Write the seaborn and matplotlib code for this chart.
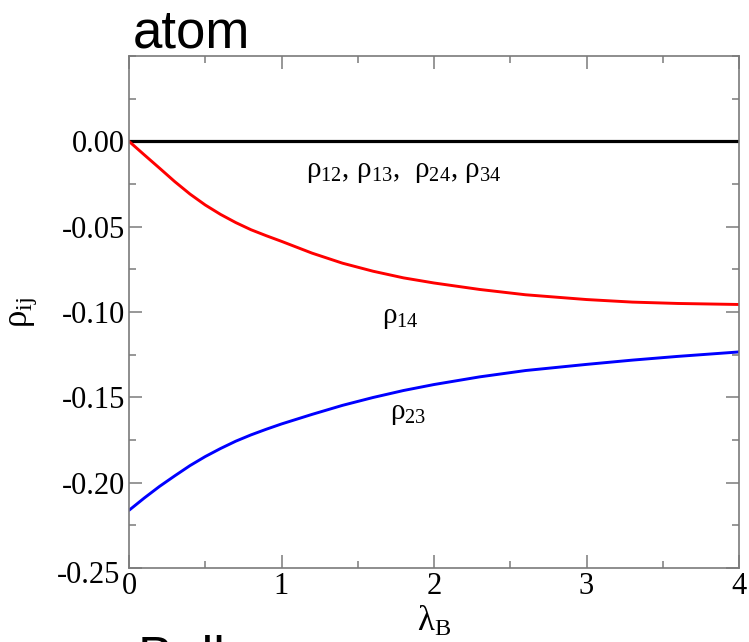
import numpy as np
import pandas as pd
import matplotlib
matplotlib.use("Agg")
import matplotlib.pyplot as plt
import matplotlib.transforms as mtransforms
import seaborn as sns
from matplotlib.ticker import MultipleLocator

# data
lam = [0.0, 0.1, 0.2, 0.3, 0.4, 0.5, 0.6, 0.7, 0.8, 0.9, 1.0,
       1.2, 1.4, 1.6, 1.8, 2.0, 2.3, 2.6, 3.0, 3.3, 3.6, 4.0]
rho14 = [0.0, -0.0079, -0.0157, -0.0236, -0.0309, -0.0373, -0.0428, -0.0476,
         -0.0518, -0.0553, -0.0586, -0.0655, -0.0714, -0.0761, -0.0800, -0.0830,
         -0.0868, -0.0899, -0.0927, -0.0942, -0.0950, -0.0956]
rho23 = [-0.2162, -0.2090, -0.2022, -0.1960, -0.1900, -0.1847, -0.1800, -0.1757,
         -0.1720, -0.1687, -0.1656, -0.1600, -0.1547, -0.1501, -0.1460, -0.1425,
         -0.1380, -0.1343, -0.1307, -0.1282, -0.1260, -0.1234]
rho_zero = [0.0] * len(lam)
xticks = [0, 1, 2, 3, 4]
yticks = [-0.25, -0.20, -0.15, -0.10, -0.05, 0.00]

sns.set_theme(style="ticks")
plt.rcParams['font.family'] = ['Liberation Serif', 'DejaVu Serif']
plt.rcParams['mathtext.fontset'] = 'custom'
plt.rcParams['mathtext.rm'] = 'Liberation Serif'
plt.rcParams['mathtext.it'] = 'Liberation Serif'
plt.rcParams['mathtext.default'] = 'rm'
for k in ['text.color', 'axes.labelcolor', 'xtick.labelcolor', 'ytick.labelcolor']:
    plt.rcParams[k] = 'black'

fig = plt.figure(figsize=(7.49, 6.42), dpi=100)
ax = fig.add_axes([129/749, 1-568/642, (739-129)/749, (568-56)/642])

df = pd.DataFrame({"lam": lam, "zero": rho_zero, "r14": rho14, "r23": rho23})
sns.lineplot(data=df, x="lam", y="zero", ax=ax, color="black", lw=2.3)
sns.lineplot(data=df, x="lam", y="r14", ax=ax, color="red", lw=2.1)
sns.lineplot(data=df, x="lam", y="r23", ax=ax, color="blue", lw=2.1)

ax.set_xlim(0, 4)
ax.set_ylim(-0.25, 0.05)
ax.set_xticks(xticks)
ax.set_xticklabels([str(v) for v in xticks])
ax.set_yticks(yticks)
ax.set_yticklabels([f"{v:.2f}" for v in yticks])
ax.xaxis.set_minor_locator(MultipleLocator(0.5))
ax.yaxis.set_minor_locator(MultipleLocator(0.025))

gray = "#7a7a7a"
for s in ax.spines.values():
    s.set_visible(True)
    s.set_color(gray)
    s.set_linewidth(1.2)
ax.tick_params(which='both', direction='in', top=True, right=True, color=gray, width=1.1)
ax.tick_params(which='major', length=9.5, labelsize=22, pad=3)
ax.tick_params(which='minor', length=5)
ax.tick_params(axis='y', which='major', pad=3)

# the lowest y label sits a little left/below its tick, as in the reference
lowest = ax.get_yticklabels()[0]
lowest.set_transform(lowest.get_transform() +
                     mtransforms.ScaledTranslation(-5/100, -4/100, fig.dpi_scale_trans))

ax.set_xlabel(r"$\lambda_\mathrm{B}$", fontsize=25)
ax.xaxis.set_label_coords(0.5, (568-605)/512)
ax.set_ylabel(r"$\rho_\mathrm{ij}$", fontsize=25)
ax.yaxis.set_label_coords((39-129)/610, 0.5)

ax.text(1.16, -0.018, r"$\rho_{12}$, $\rho_{13}$,  $\rho_{24}$, $\rho_{34}$",
        fontsize=21, va='center', ha='left')
ax.text(1.66, -0.1036, r"$\rho_{14}$", fontsize=21, va='center', ha='left')
ax.text(1.71, -0.160, r"$\rho_{23}$", fontsize=21, va='center', ha='left')

fig.text(133/749, 1-47/642, "atom", fontsize=38, family='Liberation Sans',
         ha='left', va='baseline', color='black')
fig.text(138/749, 1-674/642, "Bell", fontsize=38, family='Liberation Sans',
         ha='left', va='baseline', color='black')

fig.savefig("out.png", dpi=100)
